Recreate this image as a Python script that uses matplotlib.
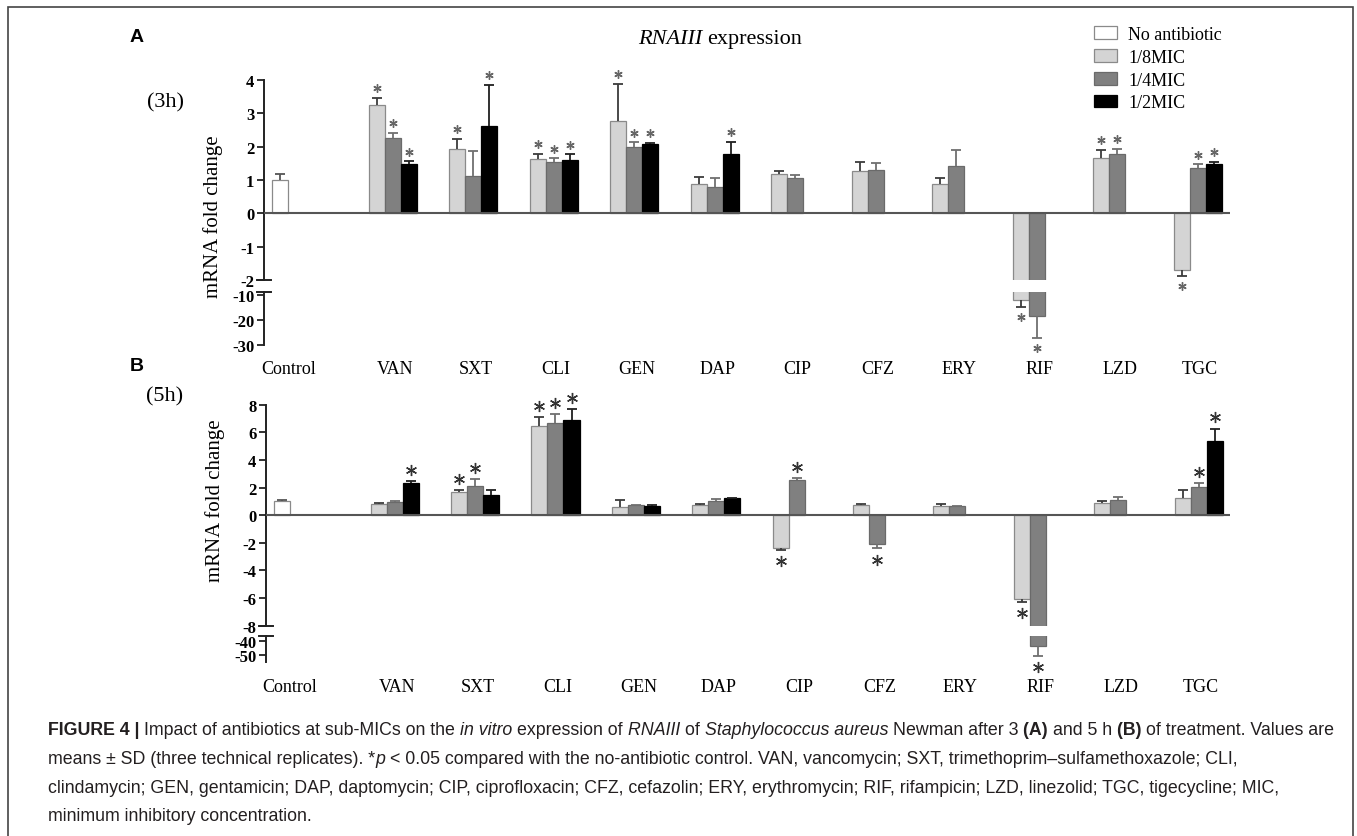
import numpy as np
import matplotlib
matplotlib.use("Agg")
import matplotlib.pyplot as plt
from matplotlib import font_manager, transforms
from matplotlib.patches import Rectangle

plt.rcParams['axes.unicode_minus'] = False

# ---------------- data ----------------
nan = np.nan
categories = ['Control', 'VAN', 'SXT', 'CLI', 'GEN', 'DAP', 'CIP', 'CFZ', 'ERY', 'RIF', 'LZD', 'TGC']
series_names = ['No antibiotic', '1/8MIC', '1/4MIC', '1/2MIC']

# Panel A (3 h)
A_none = [1.00] + [nan] * 11
A_none_err = [0.17] + [nan] * 11
A_8 = [nan, 3.25, 1.92, 1.64, 2.77, 0.88, 1.19, 1.27, 0.89, -11.9, 1.65, -1.71]
A_8_err = [nan, 0.22, 0.32, 0.15, 1.12, 0.20, 0.07, 0.26, 0.18, 2.9, 0.25, 0.17]
A_4 = [nan, 2.25, 1.13, 1.55, 1.98, 0.79, 1.07, 1.30, 1.43, -18.4, 1.78, 1.37]
A_4_err = [nan, 0.17, 0.73, 0.10, 0.15, 0.27, 0.07, 0.22, 0.47, 8.8, 0.15, 0.10]
A_2 = [nan, 1.49, 2.62, 1.59, 2.07, 1.79, nan, nan, nan, nan, nan, 1.47]
A_2_err = [nan, 0.07, 1.24, 0.18, 0.05, 0.36, nan, nan, nan, nan, nan, 0.08]
A_none_sig = [0] * 12
A_8_sig = [0, 1, 1, 1, 1, 0, 0, 0, 0, 1, 1, 1]
A_4_sig = [0, 1, 0, 1, 1, 0, 0, 0, 0, 1, 1, 1]
A_2_sig = [0, 1, 1, 1, 1, 1, 0, 0, 0, 0, 0, 1]

# Panel B (5 h)
B_none = [1.00] + [nan] * 11
B_none_err = [0.07] + [nan] * 11
B_8 = [nan, 0.82, 1.69, 6.48, 0.60, 0.72, -2.40, 0.77, 0.70, -6.06, 0.87, 1.22]
B_8_err = [nan, 0.05, 0.14, 0.62, 0.47, 0.08, 0.13, 0.03, 0.12, 0.24, 0.13, 0.60]
B_4 = [nan, 0.99, 2.12, 6.65, 0.72, 1.06, 2.56, -2.07, 0.65, -43.6, 1.07, 2.05]
B_4_err = [nan, 0.05, 0.47, 0.65, 0.03, 0.08, 0.10, 0.34, 0.03, 7.3, 0.26, 0.27]
B_2 = [nan, 2.30, 1.47, 6.86, 0.63, 1.23, nan, nan, nan, nan, nan, 5.40]
B_2_err = [nan, 0.16, 0.39, 0.85, 0.10, 0.04, nan, nan, nan, nan, nan, 0.87]
B_none_sig = [0] * 12
B_8_sig = [0, 0, 1, 1, 0, 0, 1, 0, 0, 1, 0, 0]
B_4_sig = [0, 0, 1, 1, 0, 0, 1, 1, 0, 1, 0, 1]
B_2_sig = [0, 1, 0, 1, 0, 0, 0, 0, 0, 0, 0, 1]

# ---------------- style ----------------
W, H = 1357, 837
SERIF = 'Liberation Serif'
names = {f.name for f in font_manager.fontManager.ttflist}
CAPFAM = 'Liberation Sans Narrow' if 'Liberation Sans Narrow' in names else 'Liberation Sans'

face = ['#ffffff', '#d4d4d4', '#808080', '#000000']
edge = ['#8a8a8a', '#8a8a8a', '#6a6a6a', '#000000']
ecol = ['#555555', '#3c3c3c', '#707070', '#202020']

fig = plt.figure(figsize=(W / 100, H / 100), dpi=100)
renderer = fig.canvas.get_renderer()


def add_ax(l, t, r, b):
    return fig.add_axes([l / W, 1 - b / H, (r - l) / W, (b - t) / H])


def style_ax(ax, ylim, yticks, xlim):
    ax.set_xlim(*xlim)
    ax.set_ylim(*ylim)
    ax.set_yticks(yticks)
    for s in ('top', 'right', 'bottom'):
        ax.spines[s].set_visible(False)
    ax.spines['left'].set_color('#222222')
    ax.spines['left'].set_linewidth(1.4)
    ax.tick_params(axis='y', direction='out', length=5, width=1.3, color='#222222', pad=2,
                   labelsize=12)
    for lab in ax.get_yticklabels():
        lab.set_family(SERIF)
        lab.set_fontweight('bold')
    ax.patch.set_alpha(0)


def draw_panel(ax_up, ax_low, vals, errs, sigs, ast_ms, ast_col, ast_off, elw):
    x = np.arange(len(categories))
    width = 0.2
    handles = []
    for s in range(4):
        v = np.array(vals[s], float)
        e = np.array(errs[s], float)
        sg = np.array(sigs[s], int)
        xs = x + (s - 1.5) * width
        m = ~np.isnan(v)
        end = v + np.sign(v) * e
        for ax in (ax_up, ax_low):
            b = ax.bar(xs[m], v[m], width, color=face[s], edgecolor=edge[s], linewidth=0.9,
                       zorder=2, label=series_names[s])
            if ax is ax_up:
                handles.append(b)
            ax.vlines(xs[m], v[m], end[m], colors=ecol[s], lw=elw, zorder=3)
            ax.plot(xs[m], end[m], ls='none', marker='_', ms=6.5, mew=elw, color=ecol[s], zorder=3)
        lo, hi = ax_up.get_ylim()
        for i in np.where((sg == 1) & m)[0]:
            ax = ax_up if lo <= end[i] <= hi else ax_low
            dy = ast_off if v[i] > 0 else -ast_off
            tr = transforms.offset_copy(ax.transData, fig=fig, x=0, y=dy, units='points')
            ax.plot([xs[i]], [end[i]], ls='none', marker=(6, 2, 0), ms=ast_ms, mew=1.0,
                    color=ast_col, transform=tr, clip_on=False, zorder=5)
    ax_up.axhline(0, color='#555555', lw=1.5, zorder=3)
    return handles


def caps(ax_up, ax_low, axw_px):
    d = 7 / axw_px
    ax_up.plot([-d, d], [0, 0], transform=ax_up.transAxes, color='#222222', lw=1.4, clip_on=False)
    ax_low.plot([-d, d], [1, 1], transform=ax_low.transAxes, color='#222222', lw=1.4, clip_on=False)


def xlabels(ax_low, pad):
    xt = np.arange(len(categories)) + 0.13
    xt[0] = -0.2
    ax_low.set_xticks(xt)
    ax_low.set_xticklabels(categories, family=SERIF, fontsize=13)
    ax_low.tick_params(axis='x', length=0, pad=pad)


# ---------------- panel A ----------------
A_vals = [A_none, A_8, A_4, A_2]
A_errs = [A_none_err, A_8_err, A_4_err, A_2_err]
A_sigs = [A_none_sig, A_8_sig, A_4_sig, A_2_sig]
axA_up = add_ax(264, 81, 1230, 281)
axA_low = add_ax(264, 293, 1230, 346)
style_ax(axA_up, (-2, 4), [-2, -1, 0, 1, 2, 3, 4], (-0.5, 11.5))
style_ax(axA_low, (-30, -8.8), [-30, -20, -10], (-0.5, 11.5))
axA_up.set_xticks([])
handles = draw_panel(axA_up, axA_low, A_vals, A_errs, A_sigs, 6, '#666666', 7.0, 1.3)
caps(axA_up, axA_low, 966)
xlabels(axA_low, 10.5)

# ---------------- panel B ----------------
B_vals = [B_none, B_8, B_4, B_2]
B_errs = [B_none_err, B_8_err, B_4_err, B_2_err]
B_sigs = [B_none_sig, B_8_sig, B_4_sig, B_2_sig]
axB_up = add_ax(266, 405.7, 1230, 626.7)
axB_low = add_ax(266, 637, 1230, 663)
style_ax(axB_up, (-8, 8), [-8, -6, -4, -2, 0, 2, 4, 6, 8], (-0.5, 11.49))
style_ax(axB_low, (-55.1, -36.1), [-50, -40], (-0.5, 11.49))
axB_up.set_xticks([])
draw_panel(axB_up, axB_low, B_vals, B_errs, B_sigs, 8, '#333333', 8.0, 1.3)
caps(axB_up, axB_low, 964)
xlabels(axB_low, 11.5)

# ---------------- texts ----------------
fig.text(137 / W, 1 - 37 / H, 'A', family='Liberation Sans', fontweight='bold', fontsize=14,
         ha='center', va='center')
fig.text(137 / W, 1 - 367 / H, 'B', family='Liberation Sans', fontweight='bold', fontsize=14,
         ha='center', va='center')
fig.text(165 / W, 1 - 103 / H, '(3h)', family=SERIF, fontsize=16, ha='center', va='center')
fig.text(165 / W, 1 - 397 / H, '(5h)', family=SERIF, fontsize=16, ha='center', va='center')
fig.text(213 / W, 1 - 217 / H, 'mRNA fold change', family=SERIF, fontsize=15, rotation=90,
         ha='center', va='center')
fig.text(215 / W, 1 - 501 / H, 'mRNA fold change', family=SERIF, fontsize=15, rotation=90,
         ha='center', va='center')

fig.legend(handles, series_names, loc='upper left', bbox_to_anchor=(1094 / W, 1 - 27 / H),
           frameon=False, prop={'family': SERIF, 'size': 13}, handlelength=1.3, handleheight=0.7,
           labelspacing=0.32, handletextpad=0.6, borderaxespad=0, borderpad=0)


def measure(txt, **kw):
    t = fig.text(0, 0, txt + '|', **kw)
    w1 = t.get_window_extent(renderer).width
    t.set_text('|')
    w2 = t.get_window_extent(renderer).width
    t.remove()
    return w1 - w2


def runs_width(runs, size, family):
    return sum(measure(txt, fontsize=size, family=family, **kw) for txt, kw in runs)


def draw_runs(runs, x, y, size, family, color):
    for txt, kw in runs:
        fig.text(x / W, 1 - y / H, txt, fontsize=size, family=family, color=color,
                 va='baseline', ha='left', **kw)
        x += measure(txt, fontsize=size, family=family, **kw)


N = {}
I = {'fontstyle': 'italic'}
B = {'fontweight': 'bold'}

# title
title_runs = [('RNAIII ', I), ('expression', N)]
tw = runs_width(title_runs, 16, SERIF)
draw_runs(title_runs, 720 - tw / 2, 44, 16, SERIF, 'black')

# caption
cap_lines = [
    [('FIGURE 4 | ', B), ('Impact of antibiotics at sub-MICs on the ', N), ('in vitro ', I),
     ('expression of ', N), ('RNAIII ', I), ('of ', N), ('Staphylococcus aureus ', I),
     ('Newman after 3 ', N), ('(A) ', B), ('and 5 h ', N), ('(B) ', B),
     ('of treatment. Values are', N)],
    [('means \u00b1 SD (three technical replicates). *', N), ('p ', I),
     ('< 0.05 compared with the no-antibiotic control. VAN, vancomycin; SXT, '
      'trimethoprim\u2013sulfamethoxazole; CLI,', N)],
    [('clindamycin; GEN, gentamicin; DAP, daptomycin; CIP, ciprofloxacin; CFZ, cefazolin; '
      'ERY, erythromycin; RIF, rifampicin; LZD, linezolid; TGC, tigecycline; MIC,', N)],
    [('minimum inhibitory concentration.', N)],
]
capfam = [CAPFAM, 'DejaVu Sans']
w0 = runs_width(cap_lines[0], 11, capfam)
csize = 11 * (1288 / w0)
for line, yb in zip(cap_lines, [735, 764, 793, 821]):
    draw_runs(line, 48, yb, csize, capfam, '#231f20')

# outer frame
fig.patches.append(Rectangle((8 / W, -0.05), 1345 / W, 1.05 - 8 / H, transform=fig.transFigure,
                             fill=False, ec='#444444', lw=1.2))

fig.savefig('out.png', dpi=100)
